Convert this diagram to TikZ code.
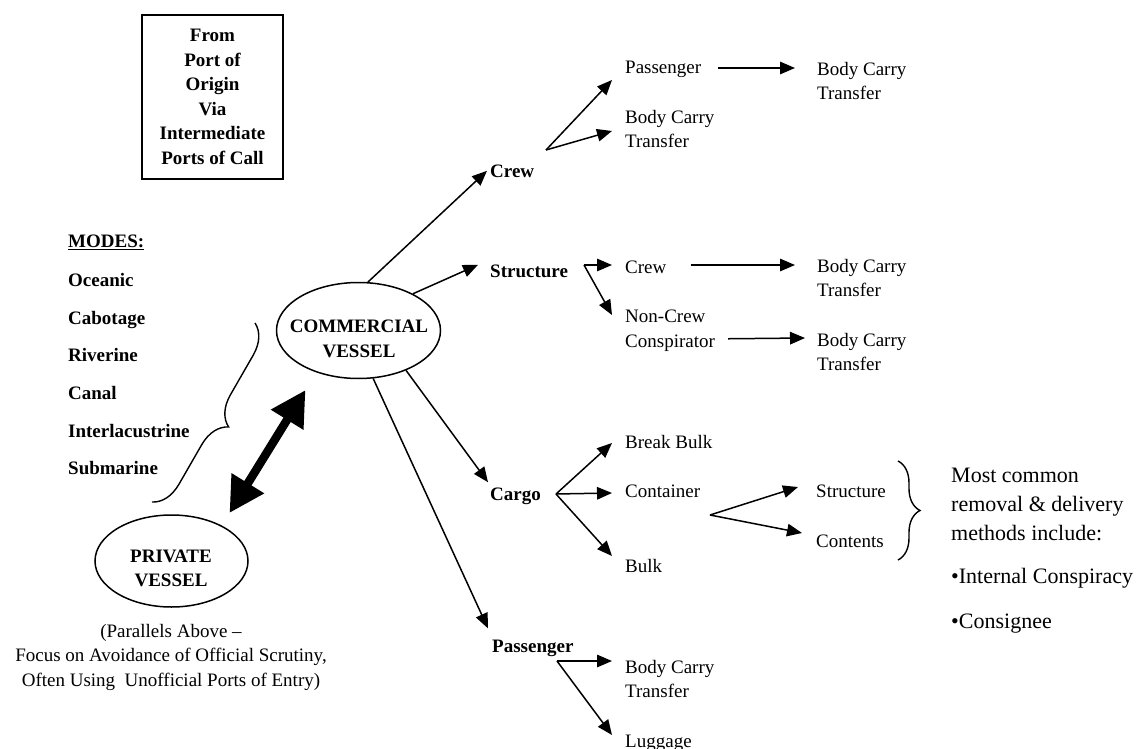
\documentclass[tikz,border=0pt]{standalone}
\usepackage{fontspec}
\setmainfont{Liberation Serif}
\usetikzlibrary{arrows.meta,shapes.geometric,decorations.pathreplacing,calc}

\begin{document}
\begin{tikzpicture}[x=1pt,y=-1pt,
  txt/.style={inner sep=0pt, font=\fontsize{19}{24.5}\selectfont},
  bld/.style={inner sep=0pt, font=\fontsize{19}{24.5}\selectfont\bfseries},
  arr/.style={line width=1.5pt, -{Triangle[length=15pt,width=12.5pt]}},
  vessel/.style={draw, ellipse, line width=1.5pt, inner sep=0pt},
  bigarr/.style={line width=8.5pt, {Triangle[length=35pt,width=36pt]}-{Triangle[length=35pt,width=36pt]}},
  bracestroke/.style={line width=1.4pt, decorate},
]
\useasboundingbox (0,0) rectangle (1138,749);

% origin box
\node[draw, line width=1.5pt, bld, align=center, minimum width=141pt, minimum height=164pt]
  (origin) at (212.5,97) {From\\Port of\\Origin\\Via\\Intermediate\\Ports of Call};

% list of modes
\node[bld, align=left, anchor=north west, font=\fontsize{19}{37.6}\selectfont\bfseries]
  (modes) at (68,235) {\underline{MODES:}\\[1.4pt]Oceanic\\Cabotage\\Riverine\\Canal\\Interlacustrine\\Submarine};
\draw[bracestroke, decoration={brace, amplitude=29pt}] (255,323) -- (152,502);

% vessels
\node[vessel, minimum width=164pt, minimum height=96pt] (cv) at (358.5,330.5) {};
\node[bld, align=center] (cvText) at (359,339) {COMMERCIAL\\VESSEL};
\node[vessel, minimum width=153pt, minimum height=92pt] (pv) at (171.5,561) {};
\node[bld, align=center] (pvText) at (171,568.5) {PRIVATE\\VESSEL};
\node[txt, align=center, anchor=north] (pvNote) at (171,624)
  {(Parallels Above –\\Focus on Avoidance of Official Scrutiny,\\Often Using\ \ Unofficial Ports of Entry)};
\draw[bigarr] ($(pv.center)+(58,-48)$) -- ($(cv.center)+(-53,59.5)$);

% first level
\node[bld, anchor=base west] (crewA) at (490,177) {Crew};
\node[bld, anchor=base west] (strA) at (490,277) {Structure};
\node[bld, anchor=base west] (cargoA) at (490,500) {Cargo};
\node[bld, anchor=base west] (passA) at (492,652) {Passenger};

\draw[arr] (cv.79) -- ($(crewA.west)+(-3,0)$);
\draw[arr] (cv.34) -- ($(strA.west)+(-12,-6)$);
\draw[arr] (cv.-40) -- ($(cargoA.north west)+(-2,-5)$);
\draw[arr] (cv.-73) -- ($(passA.north west)+(-4,-11)$);

% crew branch
\node[txt, anchor=base west] (crewPass) at (625,74) {Passenger};
\node[txt, anchor=north west, align=left] (crewBody) at (625,110) {Body Carry\\Transfer};
\node[txt, anchor=north west, align=left] (crewPassBody) at (817,62) {Body Carry\\Transfer};
\coordinate (crewFork) at (546,150);
\draw[arr] (crewFork) -- ($(crewPass.base west)+(-13,6)$);
\draw[arr] (crewFork) -- ($(crewBody.north west)+(-13,21)$);
\draw[arr] ($(crewPass.base east)+(17,-6)$) -- ($(crewPassBody.north west)+(-22,6)$);

% structure branch
\node[txt, anchor=base west] (strCrew) at (625,273) {Crew};
\node[txt, anchor=north west, align=left] (strCrewBody) at (817,259) {Body Carry\\Transfer};
\node[txt, anchor=north west, align=left] (strNon) at (625,310) {Non-Crew\\Conspirator};
\node[txt, anchor=north west, align=left] (strNonBody) at (817,333) {Body Carry\\Transfer};
\coordinate (strFork) at (584,265);
\draw[arr] (strFork) -- ($(strCrew.base west)+(-13,-8)$);
\draw[arr] (strFork) -- ($(strNon.north west)+(-13,5)$);
\draw[arr] ($(strCrew.base east)+(24,-8)$) -- ($(strCrewBody.north west)+(-22,6)$);
\draw[arr] ($(strNon.east)+(13,8)$) -- ($(strNonBody.north west)+(-12,5)$);

% cargo branch
\node[txt, anchor=base west] (bb) at (625,448) {Break Bulk};
\node[txt, anchor=base west] (cont) at (625,497) {Container};
\node[txt, anchor=base west] (bulk) at (625,572) {Bulk};
\node[txt, anchor=base west] (contStr) at (816,497) {Structure};
\node[txt, anchor=base west] (contCont) at (816,547) {Contents};
\coordinate (cargoFork) at (556,494);
\draw[arr] (cargoFork) -- ($(bb.base west)+(-13,-5)$);
\draw[arr] (cargoFork) -- ($(cont.base west)+(-13,-4)$);
\draw[arr] (cargoFork) -- ($(bulk.base west)+(-13,-16)$);
\coordinate (contFork) at (710,515);
\draw[arr] (contFork) -- ($(contStr.base west)+(-18,-10)$);
\draw[arr] (contFork) -- ($(contCont.base west)+(-14,-14)$);
\draw[bracestroke, decoration={brace, amplitude=22pt}] (898,461) -- (898,560);
\node[inner sep=0pt, anchor=north west, align=left, font=\fontsize{22}{29}\selectfont]
  (note) at (951,467.5) {Most common\\removal \& delivery\\methods include:\\[14pt]•Internal Conspiracy\\[16pt]•Consignee};

% passenger branch
\node[txt, anchor=north west, align=left] (passBody) at (625,660) {Body Carry\\Transfer};
\node[txt, anchor=base west] (lug) at (625,747) {Luggage};
\coordinate (passFork) at (557,661);
\draw[arr] (passFork) -- ($(passBody.north west)+(-13,1)$);
\draw[arr] (passFork) -- ($(lug.base west)+(-13,-12)$);
\end{tikzpicture}
\end{document}
